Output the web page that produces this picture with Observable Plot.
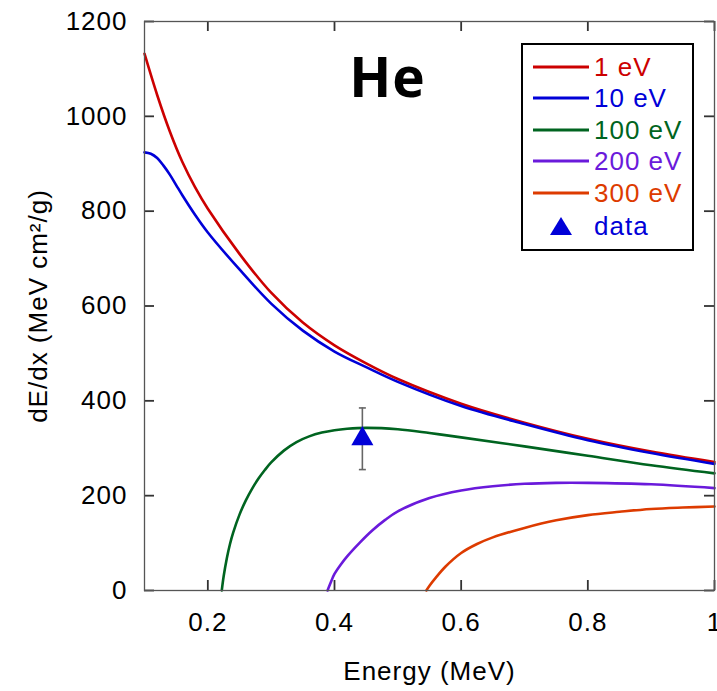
<!DOCTYPE html>
<html><head><meta charset="utf-8">
<script src="https://cdn.jsdelivr.net/npm/d3@7"></script>
<script src="https://cdn.jsdelivr.net/npm/@observablehq/plot@0.6"></script>
<style>
body{margin:0;background:#fff;}
#wrap{position:relative;width:717px;height:691px;font-family:"Liberation Sans",Arial,sans-serif;}
#legend{position:absolute;left:521px;top:43px;width:169px;height:204px;border:2px solid #000;background:#fff;}
.sw{position:absolute;left:10px;width:56px;height:3px;transform:translateY(-50%);}
.lab{position:absolute;left:71px;font-size:26px;letter-spacing:1px;line-height:1;transform:translateY(-50%);white-space:nowrap;}
.tri{position:absolute;left:27px;transform:translateY(-50%);}
</style></head>
<body><div id="wrap"><div id="legend"></div></div>
<script>
// ---- data ----
const seriesNames = ["1 eV", "10 eV", "100 eV", "200 eV", "300 eV"];
const seriesColors = ["#cc0000", "#0000d8", "#006420", "#6a1adb", "#dd3b00"];

const energy1eV = [0.1, 0.12, 0.14, 0.16, 0.18, 0.2, 0.25, 0.3, 0.35, 0.4, 0.45, 0.5, 0.6, 0.7, 0.8, 0.9, 1.0];
const dedx1eV   = [1132, 1045, 968, 903, 850, 805, 710, 628, 565, 517, 479, 446, 394, 354, 320, 293, 271];

const energy10eV = [0.1, 0.11, 0.12, 0.13, 0.14, 0.15, 0.16, 0.18, 0.2, 0.25, 0.3, 0.35, 0.4, 0.45, 0.5, 0.6, 0.7, 0.8, 0.9, 1.0];
const dedx10eV   = [924, 921, 912, 896, 877, 855, 833, 792, 755, 677, 605, 548, 504, 471, 440, 389, 351, 317, 290, 267];

const energy100eV = [0.222, 0.225, 0.23, 0.235, 0.24, 0.25, 0.26, 0.27, 0.28, 0.29, 0.3, 0.32, 0.34, 0.36, 0.38, 0.4, 0.42, 0.45, 0.5, 0.55, 0.6, 0.7, 0.8, 0.9, 1.0];
const dedx100eV   = [0, 30, 68, 98, 122, 160, 190, 215, 236, 254, 270, 295, 313, 325, 333, 338, 341, 343, 340, 332, 323, 304, 284, 264, 247];

const energy200eV = [0.389, 0.395, 0.4, 0.41, 0.42, 0.44, 0.46, 0.48, 0.5, 0.55, 0.6, 0.65, 0.7, 0.75, 0.8, 0.9, 1.0];
const dedx200eV   = [0, 20, 35, 55, 72, 101, 127, 149, 167, 195, 211, 220, 225, 227, 227, 224, 216];

const energy300eV = [0.545, 0.55, 0.56, 0.575, 0.6, 0.625, 0.65, 0.7, 0.75, 0.8, 0.85, 0.9, 0.95, 1.0];
const dedx300eV   = [0, 10, 27, 50, 79, 98, 112, 132, 148, 159, 166, 172, 175, 177];

const dataEnergy = [0.444];
const dataDedx = [320];
const dataErr = [65];

const xTicks = [0.2, 0.4, 0.6, 0.8, 1];
const yTicks = [0, 200, 400, 600, 800, 1000, 1200];

const xLabel = "Energy (MeV)";
const yLabel = "dE/dx (MeV cm\u00B2/g)";
const title = "He";

// ---- build tables ----
const energies = [energy1eV, energy10eV, energy100eV, energy200eV, energy300eV];
const dedxs = [dedx1eV, dedx10eV, dedx100eV, dedx200eV, dedx300eV];
const rows = seriesNames.flatMap((name, k) => energies[k].map((e, i) => ({series: name, x: e, y: dedxs[k][i]})));
const points = dataEnergy.map((e, i) => ({x: e, y: dataDedx[i], lo: dataDedx[i] - dataErr[i], hi: dataDedx[i] + dataErr[i]}));
const caps = points.flatMap(p => [{x: p.x, y: p.lo}, {x: p.x, y: p.hi}]);
const capSymbol = {draw(ctx, size) { const r = Math.sqrt(size / Math.PI); ctx.moveTo(-r, 0); ctx.lineTo(r, 0); }};

const drawOrder = ["100 eV", "200 eV", "300 eV", "1 eV", "10 eV"];
const lineMarks = drawOrder.map(name => Plot.line(rows.filter(d => d.series === name), {
  x: "x", y: "y", stroke: seriesColors[seriesNames.indexOf(name)], strokeWidth: 2.6, curve: "catmull-rom"
}));

// inward ticks, 10px long (converted to data units of the 570 x 569 px frame)
const xDomain = [0.1, 1], yDomain = [0, 1200];
const W = 570, H = 569, TL = 10;
const tx = TL * (xDomain[1] - xDomain[0]) / W;
const ty = TL * (yDomain[1] - yDomain[0]) / H;
const xTickRows = xTicks.flatMap(x => [
  {x, lo: yDomain[0], hi: yDomain[0] + ty},
  {x, lo: yDomain[1] - ty, hi: yDomain[1]}
]);
const yTickRows = yTicks.flatMap(y => [
  {y, lo: xDomain[0], hi: xDomain[0] + tx},
  {y, lo: xDomain[1] - tx, hi: xDomain[1]}
]);

const chart = Plot.plot({
  width: 717, height: 691,
  marginLeft: 144, marginRight: 3, marginTop: 21, marginBottom: 101,
  style: "font-family:'Liberation Sans',Arial,sans-serif;font-size:26px;letter-spacing:1px;color:#000;background:#fff;",
  x: {domain: xDomain},
  y: {domain: yDomain},
  marks: [
    ...lineMarks,
    Plot.ruleX(points, {x: "x", y1: "lo", y2: "hi", stroke: "#666", strokeWidth: 1.6}),
    Plot.dot(caps, {x: "x", y: "y", symbol: capSymbol, r: 3.5, stroke: "#666", strokeWidth: 1.6, fill: "none"}),
    Plot.dot(points, {x: "x", y: "y", symbol: "triangle", r: 8.2, fill: "#0000d8", stroke: "none"}),
    // inward ticks on all four sides
    Plot.ruleX(xTickRows, {x: "x", y1: "lo", y2: "hi", stroke: "#333", strokeWidth: 1.8}),
    Plot.ruleY(yTickRows, {y: "y", x1: "lo", x2: "hi", stroke: "#333", strokeWidth: 1.8}),
    Plot.frame({stroke: "#555", strokeWidth: 1.3}),
    // tick labels
    Plot.axisX({anchor: "bottom", ticks: xTicks, tickFormat: d => d === 1 ? "1" : d.toFixed(1), tickSize: 0, tickPadding: 22, label: null}),
    Plot.axisY({anchor: "left", ticks: yTicks, tickFormat: d3.format("d"), tickSize: 0, tickPadding: 17, label: null}),
    Plot.text([xLabel], {text: d => d, frameAnchor: "bottom", dy: 81, textAnchor: "middle", lineAnchor: "middle", fontSize: 26}),
    Plot.text([yLabel], {text: d => d, frameAnchor: "left", dx: -106, rotate: -90, textAnchor: "middle", lineAnchor: "middle", fontSize: 26}),
    Plot.text([title], {text: d => d, frameAnchor: "top", dx: -42, dy: 36, textAnchor: "middle", lineAnchor: "top", fontSize: 55, fontWeight: "bold", fontFamily: "'Open Sans', sans-serif", letterSpacing: "-2px"})
  ]
});
document.getElementById("wrap").prepend(chart);

// ---- legend ----
const legend = document.getElementById("legend");
const rowY = [22, 53, 85, 116, 148, 181];
seriesNames.forEach((name, k) => {
  const sw = document.createElement("div");
  sw.className = "sw"; sw.style.top = rowY[k] + "px"; sw.style.background = seriesColors[k];
  const lab = document.createElement("div");
  lab.className = "lab"; lab.style.top = rowY[k] + "px"; lab.style.color = seriesColors[k]; lab.textContent = name;
  legend.append(sw, lab);
});
const tri = document.createElementNS("http://www.w3.org/2000/svg", "svg");
tri.setAttribute("width", 22); tri.setAttribute("height", 18); tri.setAttribute("class", "tri");
tri.style.top = rowY[5] + "px";
tri.innerHTML = '<polygon points="11,0 22,18 0,18" fill="#0000d8"/>';
const dlab = document.createElement("div");
dlab.className = "lab"; dlab.style.top = rowY[5] + "px"; dlab.style.color = "#0000d8"; dlab.textContent = "data";
legend.append(tri, dlab);
</script></body></html>
